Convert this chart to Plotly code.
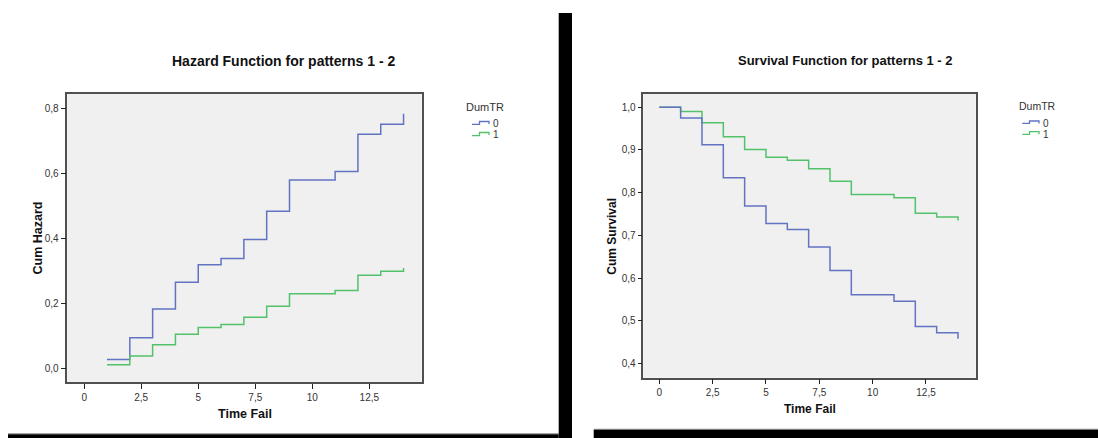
import plotly.graph_objects as go

# ---------------- data ----------------
times_h = [1, 2, 3, 4, 5, 6, 7, 8, 9, 11, 12, 13, 14]
hazard_0 = [0.026, 0.093, 0.182, 0.264, 0.318, 0.337, 0.396, 0.483, 0.579, 0.605, 0.720, 0.751, 0.783]
hazard_1 = [0.010, 0.037, 0.072, 0.104, 0.125, 0.134, 0.156, 0.190, 0.229, 0.239, 0.286, 0.298, 0.308]

times_s = [0, 1, 2, 3, 4, 5, 6, 7, 8, 9, 11, 12, 13, 14]
surv_0 = [1.0, 0.975, 0.912, 0.835, 0.769, 0.728, 0.714, 0.673, 0.618, 0.561, 0.546, 0.487, 0.472, 0.458]
surv_1 = [1.0, 0.990, 0.964, 0.931, 0.901, 0.883, 0.876, 0.856, 0.827, 0.796, 0.788, 0.752, 0.743, 0.735]

groups = ["0", "1"]
x_tickvals = [0, 2.5, 5, 7.5, 10, 12.5]
x_ticktext = ["0", "2,5", "5", "7,5", "10", "12,5"]
yh_tickvals = [0.0, 0.2, 0.4, 0.6, 0.8]
yh_ticktext = ["0,0", "0,2", "0,4", "0,6", "0,8"]
ys_tickvals = [0.4, 0.5, 0.6, 0.7, 0.8, 0.9, 1.0]
ys_ticktext = ["0,4", "0,5", "0,6", "0,7", "0,8", "0,9", "1,0"]

BLUE = "#6273c2"
GREEN = "#52c26a"
W, H = 1098, 438
FONT = "Liberation Sans, Arial, sans-serif"


def px(x):
    return x / W


def py(y):
    return 1 - y / H


fig = go.Figure()
fig.add_trace(go.Scatter(x=times_h, y=hazard_0, mode="lines", line=dict(color=BLUE, width=1.5, shape="hv"),
                         xaxis="x", yaxis="y", showlegend=False))
fig.add_trace(go.Scatter(x=times_h, y=hazard_1, mode="lines", line=dict(color=GREEN, width=1.5, shape="hv"),
                         xaxis="x", yaxis="y", showlegend=False))
fig.add_trace(go.Scatter(x=times_s, y=surv_1, mode="lines", line=dict(color=GREEN, width=1.5, shape="hv"),
                         xaxis="x2", yaxis="y2", showlegend=False))
fig.add_trace(go.Scatter(x=times_s, y=surv_0, mode="lines", line=dict(color=BLUE, width=1.5, shape="hv"),
                         xaxis="x2", yaxis="y2", showlegend=False))

axis_common = dict(showgrid=False, zeroline=False, showline=True, mirror=True, linecolor="#505050",
                   linewidth=1.5, ticks="outside", ticklen=5, tickcolor="#222", tickwidth=1)

fig.update_layout(
    width=W, height=H, margin=dict(l=0, r=0, t=0, b=0),
    paper_bgcolor="white", plot_bgcolor="#f0f0f0",
    font=dict(family=FONT, color="#333"),
    xaxis=dict(domain=[px(67.3), px(421.8)], range=[-0.74, 14.8], tickvals=x_tickvals, ticktext=x_ticktext,
               tickfont=dict(size=10), anchor="y", **axis_common),
    yaxis=dict(domain=[py(382.3), py(94)], range=[-0.044, 0.844], tickvals=yh_tickvals, ticktext=yh_ticktext,
               tickfont=dict(size=10), anchor="x", **axis_common),
    xaxis2=dict(domain=[px(643.3), px(975.7)], range=[-0.75, 14.83], tickvals=x_tickvals, ticktext=x_ticktext,
                tickfont=dict(size=10), anchor="y2", **axis_common),
    yaxis2=dict(domain=[py(377.7), py(94)], range=[0.367, 1.031], tickvals=ys_tickvals, ticktext=ys_ticktext,
                tickfont=dict(size=10), anchor="x2", ticklen=4,
                **{k: v for k, v in axis_common.items() if k != "ticklen"}),
)

annotations = []


def text(s, x, y, size, bold=False, angle=0, color="#111", xanchor="center"):
    annotations.append(dict(text=f"<b>{s}</b>" if bold else s, x=px(x), y=py(y), xref="paper", yref="paper",
                            showarrow=False, xanchor=xanchor, yanchor="middle", textangle=angle,
                            font=dict(size=size, color=color, family=FONT)))


# titles
text("Hazard Function for patterns 1 - 2", 283.5, 61, 14, bold=True)
text("Survival Function for patterns 1 - 2", 845.6, 61, 13, bold=True)
# axis titles
text("Cum Hazard", 37.5, 238, 12.5, bold=True, angle=-90)
text("Time Fail", 244.5, 414, 12.5, bold=True)
text("Cum Survival", 612, 236.7, 12, bold=True, angle=-90)
text("Time Fail", 809.5, 409.3, 12, bold=True)
# legends
text("DumTR", 484.7, 106.7, 11, color="#333")
text("DumTR", 1037.8, 106, 10.5, color="#333")
text(groups[0], 490.5, 123.3, 10, color="#333", xanchor="left")
text(groups[1], 490.5, 134.3, 10, color="#333", xanchor="left")
text(groups[0], 1040.5, 123, 10, color="#333", xanchor="left")
text(groups[1], 1040.5, 134, 10, color="#333", xanchor="left")

shapes = []


def step_icon(x0, x1, x2, ylow, yhigh, color):
    d = (f"M {px(x0)},{py(ylow)} L {px(x1)},{py(ylow)} L {px(x1)},{py(yhigh)} "
         f"L {px(x2)},{py(yhigh)} L {px(x2)},{py(yhigh + 2.5)}")
    shapes.append(dict(type="path", path=d, xref="paper", yref="paper", line=dict(color=color, width=1.3)))


step_icon(472, 479.5, 489, 124.3, 121.5, BLUE)
step_icon(472, 479.5, 489, 135.6, 132.5, GREEN)
step_icon(1022.3, 1029.5, 1039, 123.3, 121, BLUE)
step_icon(1022.3, 1029.5, 1039, 134.3, 131.7, GREEN)


def rect(x0, y0, x1, y1, color):
    shapes.append(dict(type="rect", xref="paper", yref="paper", x0=px(x0), x1=px(x1), y0=py(y1), y1=py(y0),
                       line=dict(width=0), fillcolor=color, layer="above"))


# black frame pieces of the screenshot
rect(8, 433.2, 558.7, 434.2, "#888888")
rect(8, 434.2, 558.7, 438, "#000000")
rect(558.7, 13, 572, 438, "#000000")
rect(593.7, 428.8, 1098, 429.8, "#888888")
rect(593.7, 429.8, 1098, 438, "#000000")

fig.update_layout(annotations=annotations, shapes=shapes)
fig.write_html("out.html")
